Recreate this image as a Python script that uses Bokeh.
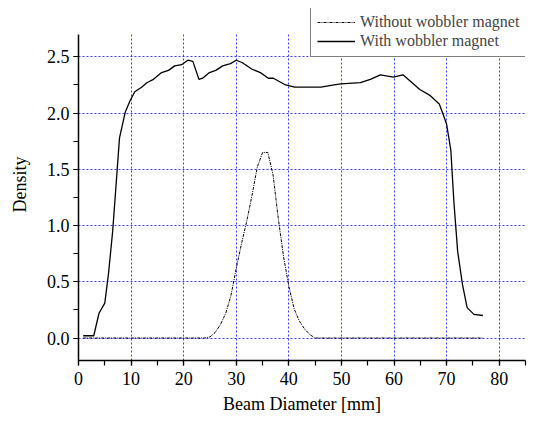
from bokeh.plotting import figure
from bokeh.models import (SingleIntervalTicker, PrintfTickFormatter, Range1d, Legend,
                          LegendItem, BoxAnnotation)
from bokeh.embed import file_html
from bokeh.resources import INLINE

# Data
without_x = [0.9, 24.0, 25.0, 26.0, 27.0, 28.0, 29.0, 30.0, 31.0, 32.0, 33.0, 34.0, 35.0,
             36.0, 37.0, 38.0, 39.0, 40.0, 41.0, 42.0, 43.0, 44.0, 45.0, 76.9]
without_y = [0.0, 0.0, 0.01, 0.05, 0.12, 0.22, 0.38, 0.62, 0.84, 1.04, 1.27, 1.52, 1.65,
             1.65, 1.45, 1.06, 0.72, 0.46, 0.26, 0.15, 0.08, 0.03, 0.0, 0.0]

with_x = [0.9, 2.9, 3.9, 5.0, 5.7, 6.5, 7.3, 7.8, 8.9, 9.8, 10.7, 12.0, 13.0, 14.25, 15.8,
          17.1, 18.3, 19.6, 20.8, 21.75, 22.9, 23.6, 24.9, 26.1, 27.4, 28.9, 30.0, 31.1,
          33.0, 34.6, 36.1, 37.05, 39.4, 41.1, 46.1, 48.6, 49.9, 53.6, 55.5, 57.4, 59.9,
          61.7, 64.9, 66.75, 68.6, 69.4, 70.0, 70.8, 71.4, 72.1, 73.0, 73.9, 75.2, 76.9]
with_y = [0.02, 0.02, 0.22, 0.31, 0.57, 0.95, 1.46, 1.78, 2.01, 2.11, 2.19, 2.23, 2.27, 2.30, 2.36,
          2.38, 2.42, 2.43, 2.47, 2.46, 2.30, 2.31, 2.36, 2.38, 2.42, 2.44, 2.47, 2.45,
          2.39, 2.36, 2.31, 2.31, 2.25, 2.23, 2.23, 2.25, 2.26, 2.27, 2.30, 2.34, 2.32,
          2.34, 2.21, 2.16, 2.08, 1.98, 1.90, 1.67, 1.20, 0.77, 0.48, 0.27, 0.21, 0.20]

series_labels = ["Without wobbler magnet", "With wobbler magnet"]
x_label = "Beam Diameter [mm]"
y_label = "Density"

FONT = "Liberation Serif"
Y_MIN, Y_MAX = -0.2, 2.7
Y_HEADROOM = 2.93   # extra space above the axes for the legend box

p = figure(width=531, height=417, output_backend="svg", toolbar_location=None,
           x_range=Range1d(0, 85), y_range=Range1d(Y_MIN, Y_HEADROOM),
           min_border_left=78, min_border_right=6, min_border_top=8, min_border_bottom=57)
p.outline_line_color = None
p.background_fill_color = "white"
p.border_fill_color = "white"

r1 = p.line(without_x, without_y, line_color="black", line_width=1, line_dash="3 1 1 1")
r2 = p.line(with_x, with_y, line_color="black", line_width=1.3)

p.xaxis.ticker = SingleIntervalTicker(interval=10, num_minor_ticks=2)
p.yaxis.ticker = SingleIntervalTicker(interval=0.5, num_minor_ticks=2)
p.yaxis.formatter = PrintfTickFormatter(format="%.1f")
p.yaxis.bounds = (Y_MIN, Y_MAX)

for ax in (p.xaxis[0], p.yaxis[0]):
    ax.axis_line_color = "black"
    ax.axis_line_width = 1.5
    ax.major_tick_line_color = "black"
    ax.minor_tick_line_color = "black"
    ax.major_tick_line_width = 1.2
    ax.minor_tick_line_width = 1.2
    ax.major_tick_in = 0
    ax.minor_tick_in = 0
    ax.major_tick_out = 5
    ax.minor_tick_out = 5
    ax.major_label_text_font = FONT
    ax.major_label_text_font_size = "18px"
    ax.major_label_text_color = "black"
    ax.axis_label_text_font = FONT
    ax.axis_label_text_font_size = "18px"
    ax.axis_label_text_font_style = "normal"
    ax.axis_label_text_color = "black"

p.xaxis.axis_label = x_label
p.yaxis.axis_label = y_label
p.xaxis.major_label_standoff = 6
p.yaxis.major_label_standoff = 4
p.xaxis.axis_label_standoff = 6
p.yaxis.axis_label_standoff = 14

for g in (p.xgrid[0], p.ygrid[0]):
    g.grid_line_color = "#1a1aff"
    g.grid_line_dash = "2 2"
    g.grid_line_width = 1
    g.grid_line_alpha = 0.85

# blank out the headroom above the axes (grid lines stop at the top of the y axis)
p.add_layout(BoxAnnotation(bottom=Y_MAX, fill_color="white", fill_alpha=1.0,
                           line_alpha=0, level="annotation"))

legend = Legend(items=[LegendItem(label=series_labels[0], renderers=[r1]),
                       LegendItem(label=series_labels[1], renderers=[r2])],
                location=(232, 303))
legend.label_text_font = FONT
legend.label_text_font_size = "16px"
legend.glyph_width = 38
legend.glyph_height = 18
legend.label_height = 18
legend.label_standoff = 5
legend.label_width = 240
legend.padding = 6
legend.spacing = 1
legend.margin = 0
legend.border_line_color = "black"
legend.border_line_width = 1.2
legend.background_fill_color = "white"
legend.background_fill_alpha = 1
p.add_layout(legend, "center")

open("out.html", "w").write(file_html(p, INLINE))
